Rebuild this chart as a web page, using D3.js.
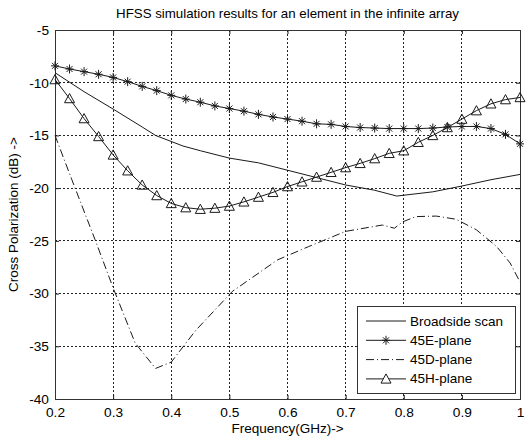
<!DOCTYPE html>
<html>
<head>
<meta charset="utf-8">
<script src="https://cdn.jsdelivr.net/npm/d3@7"></script>
<style>
  body { margin: 0; background: #fff; }
  text { font-family: "Liberation Sans", Arial, sans-serif; font-size: 13px; fill: #000; }
</style>
</head>
<body>
<div id="chart"></div>
<script>
// sweep points carrying markers (GHz)
const freq = [0.2, 0.225, 0.25, 0.275, 0.3, 0.325, 0.35, 0.375, 0.4, 0.425, 0.45,
  0.475, 0.5, 0.525, 0.55, 0.575, 0.6, 0.625, 0.65, 0.675, 0.7, 0.725, 0.75,
  0.775, 0.8, 0.825, 0.85, 0.875, 0.9, 0.925, 0.95, 0.975, 1.0];
const ePlane = [-8.4, -8.7, -8.95, -9.2, -9.5, -9.9, -10.35, -10.75, -11.2, -11.55, -11.85,
  -12.2, -12.45, -12.7, -13.0, -13.25, -13.45, -13.65, -13.9, -13.95, -14.15, -14.25, -14.3,
  -14.35, -14.35, -14.35, -14.3, -14.2, -14.15, -14.15, -14.35, -14.9, -15.8];
const hPlane = [-9.7, -11.5, -13.4, -15.1, -16.85, -18.35, -19.7, -20.7, -21.45, -21.85, -22.0,
  -21.9, -21.7, -21.3, -20.85, -20.4, -19.85, -19.4, -18.95, -18.5, -18.05, -17.65, -17.2,
  -16.7, -16.45, -15.65, -15.0, -14.25, -13.45, -12.65, -12.0, -11.6, -11.4];

// broadside and 45D traces (no markers)
const broadFreq = [0.2, 0.25, 0.3, 0.35, 0.373, 0.42, 0.45, 0.5, 0.55, 0.6, 0.65, 0.7,
  0.75, 0.788, 0.85, 0.9, 0.95, 1.0];
const broadside = [-9.05, -10.85, -12.5, -14.2, -15.0, -16.0, -16.45, -17.15, -17.6, -18.3,
  -19.0, -19.7, -20.2, -20.75, -20.35, -19.8, -19.2, -18.7];
const dFreq = [0.2, 0.229, 0.269, 0.301, 0.338, 0.373, 0.4, 0.442, 0.505, 0.583, 0.636,
  0.7, 0.763, 0.784, 0.798, 0.821, 0.856, 0.89, 0.925, 0.96, 0.983, 1.0];
const dPlane = [-15.0, -19.2, -24.9, -29.6, -34.7, -37.1, -36.5, -33.5, -29.8, -26.8, -25.55,
  -24.1, -23.5, -23.8, -23.2, -22.7, -22.65, -22.95, -23.95, -25.55, -27.1, -28.9];

const xTicks = [0.2, 0.3, 0.4, 0.5, 0.6, 0.7, 0.8, 0.9, 1];
const yTicks = [-40, -35, -30, -25, -20, -15, -10, -5];
const legendLabels = ["Broadside scan", "45E-plane", "45D-plane", "45H-plane"];

const W = 527, H = 438;
const dims = { left: 55, right: 7, top: 30, bottom: 39 };
const pw = W - dims.left - dims.right;
const ph = H - dims.top - dims.bottom;
const ink = "#1a1a1a";

const svg = d3.select("#chart").append("svg")
  .attr("width", W).attr("height", H)
  .attr("xmlns", "http://www.w3.org/2000/svg");

const x = d3.scaleLinear([0.2, 1], [0, pw]);
const y = d3.scaleLinear([-40, -5], [ph, 0]);

const g = svg.append("g").attr("transform", `translate(${dims.left} ${dims.top})`);

// dotted grid
const grid = g.append("g").attr("stroke", "#222").attr("stroke-dasharray", "2,2")
  .attr("stroke-width", 1).attr("shape-rendering", "crispEdges");
grid.selectAll("line.gx").data(xTicks.slice(1, -1)).join("line")
  .attr("x1", d => x(d)).attr("x2", d => x(d)).attr("y1", 0).attr("y2", ph);
grid.selectAll("line.gy").data(yTicks.slice(1, -1)).join("line")
  .attr("y1", d => y(d)).attr("y2", d => y(d)).attr("x1", 0).attr("x2", pw);

// axes, ticks pointing inward
const fmt = d => String(d);
g.append("g").attr("transform", `translate(0 ${ph})`)
  .call(d3.axisBottom(x).tickValues(xTicks).tickFormat(fmt).tickSizeInner(-4).tickSizeOuter(0).tickPadding(8));
g.append("g")
  .call(d3.axisLeft(y).tickValues(yTicks).tickFormat(fmt).tickSizeInner(-4).tickSizeOuter(0).tickPadding(6));
g.append("g")
  .call(d3.axisTop(x).tickValues(xTicks).tickFormat("").tickSizeInner(-4).tickSizeOuter(0));
g.append("g").attr("transform", `translate(${pw} 0)`)
  .call(d3.axisRight(y).tickValues(yTicks).tickFormat("").tickSizeInner(-4).tickSizeOuter(0));
g.selectAll(".domain").remove();
g.selectAll(".tick line").attr("stroke", ink);
g.selectAll(".tick text").style("font-size", "13.7px").style("font-family", "'Liberation Sans', Arial, sans-serif");
g.append("rect").attr("width", pw).attr("height", ph)
  .attr("fill", "none").attr("stroke", "#333").attr("shape-rendering", "crispEdges");

// traces
const line = d3.line().x(d => x(d[0])).y(d => y(d[1]));
const zip = (a, b) => a.map((v, i) => [v, b[i]]);

const traces = g.append("g").attr("fill", "none").attr("stroke", ink).attr("stroke-width", 1);
traces.append("path").attr("d", line(zip(broadFreq, broadside)));
traces.append("path").attr("d", line(zip(dFreq, dPlane))).attr("stroke-dasharray", "8,3,1,3");
traces.append("path").attr("d", line(zip(freq, ePlane)));
traces.append("path").attr("d", line(zip(freq, hPlane)));

const starPath = "M-4,0H4M0,-4.5V4.5M-3,-3L3,3M-3,3L3,-3";
const triPath = "M0,-5L5,4.2L-5,4.2Z";

g.append("g").selectAll("path").data(zip(freq, ePlane)).join("path")
  .attr("transform", d => `translate(${x(d[0])} ${y(d[1])})`)
  .attr("d", starPath).attr("stroke", ink).attr("fill", "none");
g.append("g").selectAll("path").data(zip(freq, hPlane)).join("path")
  .attr("transform", d => `translate(${x(d[0])} ${y(d[1])})`)
  .attr("d", triPath).attr("stroke", ink).attr("fill", "none");

// legend
const leg = svg.append("g").attr("transform", "translate(357 306)");
leg.append("rect").attr("width", 158).attr("height", 87)
  .attr("fill", "#fff").attr("stroke", "#333").attr("shape-rendering", "crispEdges");
const items = leg.selectAll("g.item").data(legendLabels).join("g")
  .attr("class", "item")
  .attr("transform", (d, i) => `translate(0 ${15 + i * 19.3})`);
items.append("line").attr("x1", 9).attr("x2", 49).attr("y1", 0).attr("y2", 0)
  .attr("stroke", ink)
  .attr("stroke-dasharray", (d, i) => i === 2 ? "8,3,1,3" : null);
items.filter((d, i) => i === 1).append("path")
  .attr("transform", "translate(29 0)").attr("d", starPath).attr("stroke", ink).attr("fill", "none");
items.filter((d, i) => i === 3).append("path")
  .attr("transform", "translate(29 0)").attr("d", triPath).attr("stroke", ink).attr("fill", "#fff");
items.append("text").attr("x", 53).attr("y", 4.5).style("font-size", "13.5px").text(d => d);

// titles
svg.append("text").attr("x", dims.left + pw / 2).attr("y", 18)
  .attr("text-anchor", "middle").style("font-size", "13.3px")
  .text("HFSS simulation results for an element in the infinite array");
svg.append("text").attr("x", dims.left + pw / 2).attr("y", 433)
  .attr("text-anchor", "middle").style("font-size", "13.5px").text("Frequency(GHz)->");
svg.append("text")
  .attr("transform", `translate(18 ${dims.top + ph / 2}) rotate(-90)`)
  .attr("text-anchor", "middle").style("font-size", "13.5px").text("Cross Polarization (dB) ->");
</script>
</body>
</html>
